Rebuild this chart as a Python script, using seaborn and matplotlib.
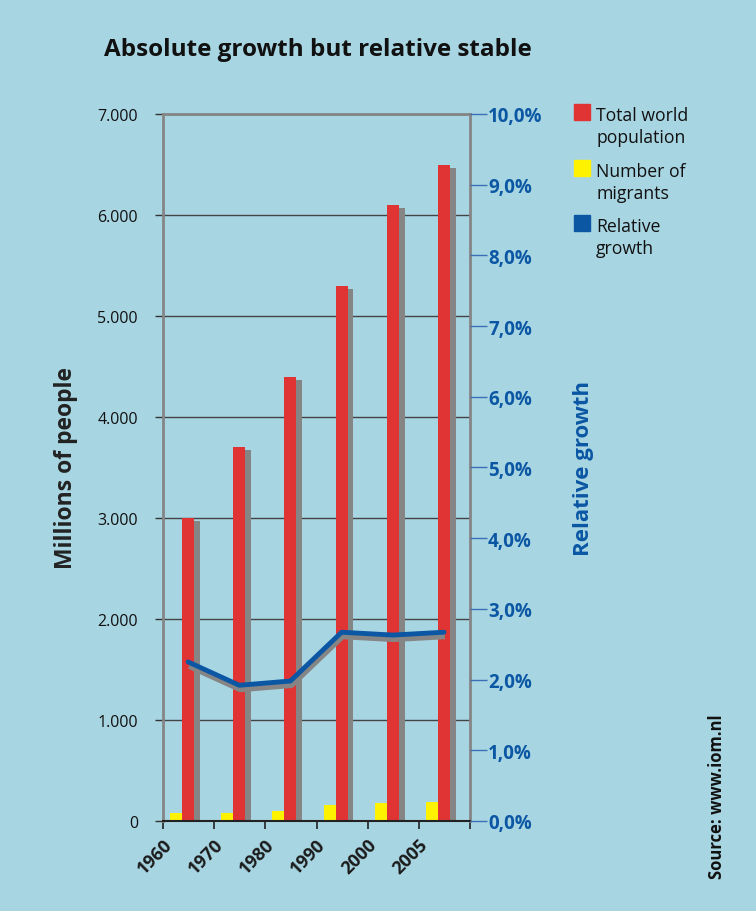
import matplotlib
matplotlib.use("Agg")
import matplotlib.pyplot as plt
import matplotlib.patches as mpatches
import seaborn as sns
import pandas as pd
import numpy as np

years = ["1960", "1970", "1980", "1990", "2000", "2005"]
population = [3000, 3700, 4400, 5300, 6100, 6500]
migrants = [76, 84, 100, 155, 175, 190]
rel_growth = [2.25, 1.92, 1.98, 2.67, 2.63, 2.67]
left_ticks = [0, 1000, 2000, 3000, 4000, 5000, 6000, 7000]
right_ticks = [0, 1, 2, 3, 4, 5, 6, 7, 8, 9, 10]
legend_labels = ["Total world\npopulation", "Number of\nmigrants", "Relative\ngrowth"]

BG = "#a8d5e2"
RED = "#e03434"
YEL = "#fff200"
BLUE = "#0b57a4"
GREY = "#858585"

sns.set_theme(style="white")
plt.rcParams['font.family'] = ['Open Sans', 'DejaVu Sans']

df = pd.DataFrame({
    "year": years * 2,
    "series": ["Number of migrants"] * 6 + ["Total world population"] * 6,
    "value": migrants + population,
})

FW, FH = 756, 912
fig = plt.figure(figsize=(7.56, 9.12), dpi=100)
fig.patch.set_facecolor(BG)
ax = fig.add_axes([163/FW, 90/FH, 307/FW, 707/FH])
ax.set_facecolor("none")

W = 0.47
half = W / 2
# shadow behind the red bars
xs = np.arange(len(years))
ax.bar(xs + half/2 + 0.115, np.array(population) - 30, width=half, color=GREY, zorder=1, linewidth=0)

sns.barplot(data=df, x="year", y="value", hue="series",
            hue_order=["Number of migrants", "Total world population"],
            palette=[YEL, RED], saturation=1, width=W, gap=0, dodge=True, ax=ax,
            linewidth=0, legend=False, zorder=2)

left = -0.373
ax.set_xlim(left, left + 6)
ax.set_ylim(0, 7000)
ax.set_yticks(left_ticks)
ax.set_yticklabels([f"{v:,}".replace(",", ".") for v in left_ticks], fontsize=11.5, color="#111")
ax.yaxis.grid(True, color="#444", linewidth=1)
ax.set_axisbelow(True)
ax.set_xticks([left + i for i in range(7)])
ax.set_xticklabels(years + [""], rotation=45, ha="right", rotation_mode="anchor",
                   fontsize=13, fontweight="bold", color="#1a1a1a")
ax.tick_params(axis="x", length=6, width=1.2, color="#222", direction="out", pad=4, bottom=True)
ax.tick_params(axis="y", length=6, width=1, color="#333", direction="out", pad=12, left=True)
ax.set_xlabel("")
ax.set_ylabel("Millions of people", fontsize=16.5, fontweight="bold", color="#222", labelpad=14)
for s in ["left", "top", "right"]:
    ax.spines[s].set_color(GREY)
    ax.spines[s].set_linewidth(2)
ax.spines["bottom"].set_color("#222")
ax.spines["bottom"].set_linewidth(1.5)

ax2 = ax.twinx()
ax2.patch.set_visible(False)
line_x = xs + half / 2
ax2.plot(line_x + 0.02, np.array(rel_growth) - 0.06, color=GREY, linewidth=4, solid_capstyle="butt", zorder=3)
sns.lineplot(x=line_x, y=rel_growth, ax=ax2, color=BLUE, linewidth=3.5, zorder=4)
ax2.set_ylim(0, 10)
ax2.set_yticks(right_ticks)
ax2.set_yticklabels([f"{v:.1f}".replace(".", ",") + "%" for v in right_ticks],
                    fontsize=13.5, fontweight="bold", color=BLUE)
ax2.tick_params(axis="y", length=12, width=1, color="#3a6fb5", direction="out", pad=1, right=True)
ax2.set_ylabel("Relative growth", fontsize=16, fontweight="bold", color=BLUE, labelpad=22)
for s in ax2.spines.values():
    s.set_visible(False)
ax2.set_xlim(left, left + 6)

fig.text(318/FW, 1 - 50/FH, "Absolute growth but relative stable", ha="center", va="center",
         fontsize=17.5, fontweight="bold", color="#111")
fig.text(717/FW, 1 - 797/FH, "Source: www.iom.nl", rotation=90, ha="center", va="center",
         fontsize=12, fontweight="bold", color="#111")

# legend: swatch aligned with the first text line
for lab, col, top in zip(legend_labels, [RED, YEL, BLUE], [105, 161, 216]):
    fig.patches.append(mpatches.Rectangle((574/FW, 1 - (top + 16)/FH), 16/FW, 16/FH,
                                          transform=fig.transFigure, color=col, figure=fig))
    fig.text(596/FW, 1 - (top + 2)/FH, lab, ha="left", va="top", fontsize=12.7,
             linespacing=1.3, color="#111")

fig.savefig("out.png", dpi=100, facecolor=BG)
